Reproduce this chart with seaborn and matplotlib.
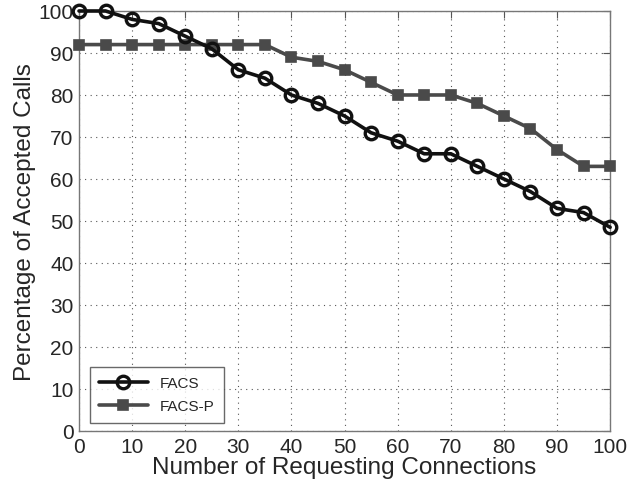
import matplotlib
matplotlib.use("Agg")
import seaborn as sns
import pandas as pd
import matplotlib.pyplot as plt

# data
connections = list(range(0, 101, 5))
facs = [100, 100, 98, 97, 94, 91, 86, 84, 80, 78, 75, 71, 69, 66, 66, 63, 60, 57, 53, 52, 48.5]
facs_p = [92, 92, 92, 92, 92, 92, 92, 92, 89, 88, 86, 83, 80, 80, 80, 78, 75, 72, 67, 63, 63]

df = pd.DataFrame({'connections': connections, 'FACS': facs, 'FACS-P': facs_p})

sns.set_style('white')
plt.rcParams['font.family'] = ['Liberation Sans', 'DejaVu Sans']

fig = plt.figure(figsize=(6.29, 4.89), dpi=100)
ax = fig.add_axes([0.1256, 0.1166, 0.8444, 0.8589])

sns.lineplot(data=df, x='connections', y='FACS', ax=ax, color='#111111', linewidth=2.6,
             marker='o', markersize=9, markerfacecolor='none', markeredgewidth=2.4,
             markeredgecolor='#111111', label='FACS', clip_on=False, zorder=4)
sns.lineplot(data=df, x='connections', y='FACS-P', ax=ax, color='#4a4a4a', linewidth=2.6,
             marker='s', markersize=7, markeredgewidth=1.2, markeredgecolor='#4a4a4a',
             label='FACS-P', clip_on=False, zorder=3)

ax.set_xlim(0, 100)
ax.set_ylim(0, 100)
ax.set_xticks(range(0, 101, 10))
ax.set_yticks(range(0, 101, 10))
ax.grid(True, linestyle=(0, (1, 4)), color='#555555', linewidth=0.8)
ax.tick_params(direction='in', length=5, labelsize=15, color='#555555', pad=4,
               top=True, right=True)
for s in ax.spines.values():
    s.set_color('#777777')
    s.set_linewidth(1.0)

ax.set_xlabel('Number of Requesting Connections', fontsize=17.5, labelpad=0)
ax.set_ylabel('Percentage of Accepted Calls', fontsize=17.5, labelpad=2)

leg = ax.legend(loc='lower left', bbox_to_anchor=(0.02, 0.02), borderaxespad=0,
                fontsize=11, frameon=True, fancybox=False, edgecolor='#444444',
                handlelength=3.2, borderpad=0.6, labelspacing=0.6)
leg.get_frame().set_linewidth(1.0)

fig.savefig('out.png', dpi=100)
